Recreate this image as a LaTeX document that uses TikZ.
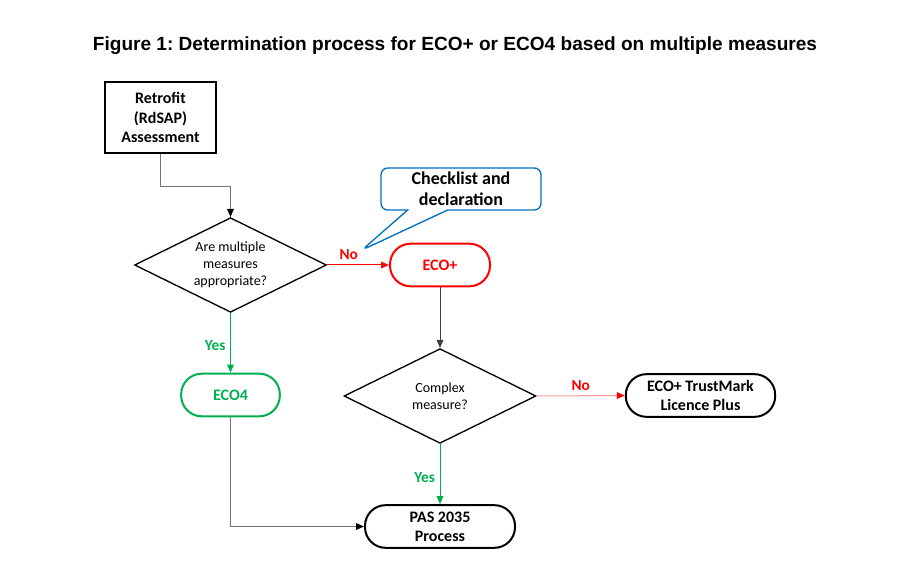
\documentclass[tikz,border=0pt]{standalone}
\usepackage{fontspec}
\setmainfont{Carlito}
\newfontfamily\titlefont{Liberation Sans}
\usetikzlibrary{arrows.meta,shapes.geometric,shapes.callouts,quotes}
\definecolor{ecored}{HTML}{FF0000}
\definecolor{ecogreen}{HTML}{00B050}
\definecolor{ecoblue}{HTML}{0070C0}
\frenchspacing
\tikzset{
  base box/.style={draw, line width=1.5pt, align=center, inner sep=0pt,
    font=\fontsize{12}{14.4}\selectfont\bfseries},
  start box/.style={base box, rectangle, minimum width=83pt, minimum height=53pt},
  terminal/.style={base box, rectangle, rounded corners=15.5pt, minimum height=32pt},
  decision/.style={draw, line width=1pt, diamond, aspect=2, inner sep=0pt, align=center,
    minimum width=144pt, minimum height=71pt, font=\fontsize{10.5}{12.8}\selectfont},
  note callout/.style={rectangle callout, draw=ecoblue, fill=white, line width=1pt,
    rounded corners=5pt, align=center, inner sep=0pt, callout pointer width=30pt,
    minimum width=120pt, minimum height=31.5pt, font=\fontsize{13.5}{16}\selectfont\bfseries},
  flow/.style={line width=.75pt, -{Triangle[length=6pt,width=5pt]}},
  grey flow/.style={flow, draw=black!55, -{Triangle[length=6pt,width=5pt,black]}},
  no flow/.style={flow, draw=#1, -{Triangle[length=6pt,width=5pt,ecored]}},
  yes flow/.style={flow, draw=ecogreen},
}
\begin{document}
\begin{tikzpicture}[x=0.75pt, y=-0.75pt,
  every edge quotes/.append style={font=\fontsize{11.5}{13}\selectfont\bfseries}]
  \useasboundingbox (0,0) rectangle (910,580);
  \node[font=\titlefont\bfseries\fontsize{14.3}{17}\selectfont] (title) at (455,46)
    {Figure 1: Determination process for ECO+ or ECO4 based on multiple measures};
  % boxes
  \node[start box] (retrofit) at (160.5,117.5) {Retrofit\\(RdSAP)\\Assessment};
  \node[decision] (multiple) at (230.5,265) {Are multiple\\measures\\appropriate?};
  \node[terminal, draw=ecored, text=ecored, minimum width=75pt] (ecoplus) at (440,265) {ECO+};
  \node[terminal, draw=ecogreen, text=ecogreen, minimum width=74pt] (eco4) at (230.5,395) {ECO4};
  \node[decision] (complex) at (440,396) {Complex\\measure?};
  \node[terminal, minimum width=112pt] (trustmark) at (700.5,395.5) {ECO+ TrustMark\\Licence Plus};
  \node[terminal, minimum width=112.5pt] (pas) at (440,526.5) {PAS 2035\\Process};
  \coordinate (tip) at (362,250);
  \node[note callout, callout absolute pointer={(tip)}] (checklist) at (461,189)
    {Checklist and\\declaration};
  % connectors
  \draw[grey flow] (retrofit.south) -- ++(0,33) -| (multiple.north);
  \path (multiple.east) edge[no flow=ecored, "No" {text=ecored, above, pos=.35}] (ecoplus.west)
        (multiple.south) edge[yes flow, "Yes" {text=ecogreen, left, pos=.55}] (eco4.north)
        (complex.east) edge[no flow=ecored!40, "No" {text=ecored, above}] (trustmark.west)
        (complex.south) edge[yes flow, "Yes" {text=ecogreen, left, pos=.55}] (pas.north);
  \draw[flow, draw=black!75] (ecoplus.south) -- (complex.north);
  \draw[grey flow] (eco4.south) |- (pas.west);
\end{tikzpicture}
\end{document}
